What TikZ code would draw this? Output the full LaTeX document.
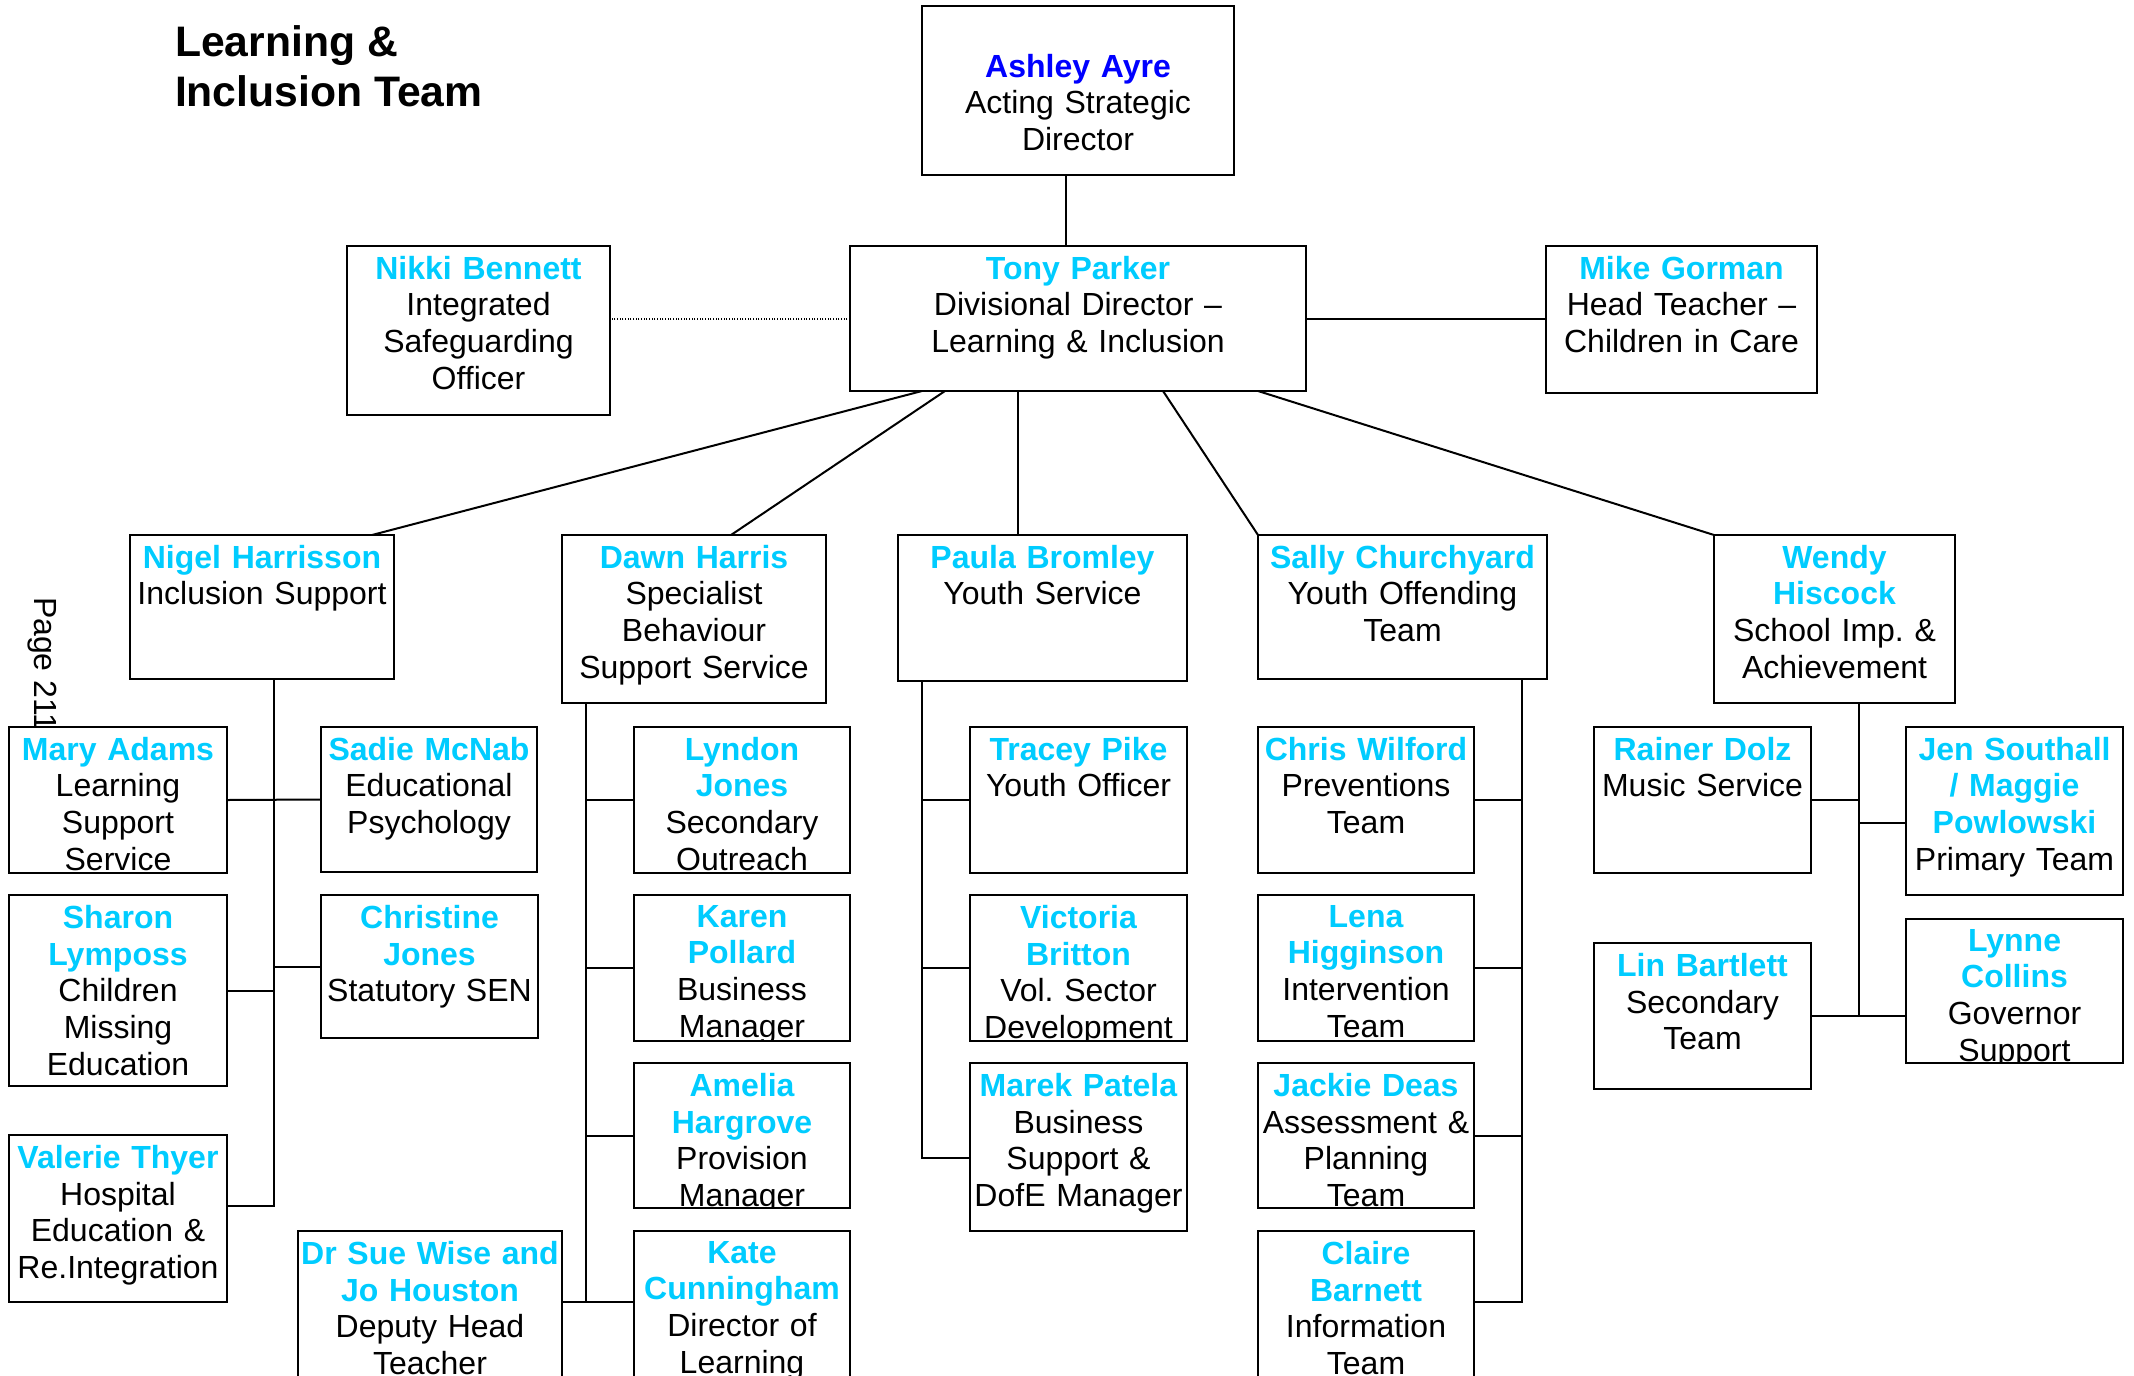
\documentclass[tikz,border=0pt]{standalone}
\usepackage{fontspec}
\setmainfont{Liberation Sans}
\usetikzlibrary{calc}
\definecolor{namecyan}{RGB}{0,204,255}
\definecolor{nameblue}{RGB}{0,0,255}
\newlength{\scaledx}
\newlength{\scaledy}
\newcommand\SetScales{%
  \pgfextractx{\scaledx}{\pgfpointxy{1}{0}}%
  \pgfextracty{\scaledy}{\pgfpointxy{0}{1}}%
}
% box name, x, y, width, height, person, job
\newcommand\StaffBox[7]{%
  \node[staffbox,minimum width=#4\scaledx,minimum height=#5\scaledx] (#1) at (#2,#3) {};
  \begin{scope}
    \clip (#2,#3) rectangle ++(#4,#5);
    \node[stafftext,text width=#4\scaledx] (#1text) at ($(#1.north)+(0,9)$) {\textcolor{namecyan}{\textbf{#6}}\\#7};
  \end{scope}%
}

\begin{document}
\frenchspacing
\begin{tikzpicture}[x=0.375pt,y=-0.375pt,line width=0.75pt,
  staffbox/.style={rectangle,draw,fill=white,inner sep=0,outer sep=0,anchor=north west},
  stafftext/.style={anchor=north,align=center,inner sep=0,font=\fontsize{12pt}{13.8pt}\selectfont},
  titletext/.style={anchor=north west,align=left,inner sep=0,font=\bfseries\fontsize{16pt}{18.75pt}\selectfont}]
\SetScales
\useasboundingbox (0,0) rectangle (2134,1375);
\clip (0,0) rectangle (2134,1375);
\node[titletext] (title) at (174,25) {Learning \&\\Inclusion Team};
\node[rotate=-90,anchor=base west,inner sep=0,font=\fontsize{12pt}{13.8pt}\selectfont] (pagenum) at (34,596) {Page 211};
% top of the tree
\node[staffbox,minimum width=312\scaledx,minimum height=169\scaledx] (ashley) at (922,6) {};
\node[stafftext,text width=312\scaledx] (ashleytext) at ($(ashley.north)+(0,47)$) {\textcolor{nameblue}{\textbf{Ashley Ayre}}\\Acting Strategic\\Director};
\StaffBox{tony}{850}{246}{456}{145}{Tony Parker}{Divisional Director \textendash\\Learning \& Inclusion}
\StaffBox{nikki}{347}{246}{263}{169}{Nikki Bennett}{Integrated\\Safeguarding\\Officer}
\StaffBox{mike}{1546}{246}{271}{147}{Mike Gorman}{Head Teacher \textendash\\Children in Care}
% heads of service
\StaffBox{nigel}{130}{535}{264}{144}{Nigel Harrisson}{Inclusion Support}
\StaffBox{dawn}{562}{535}{264}{168}{Dawn Harris}{Specialist\\Behaviour\\Support Service}
\StaffBox{paula}{898}{535}{289}{146}{Paula Bromley}{Youth Service}
\StaffBox{sally}{1258}{535}{289}{144}{Sally Churchyard}{Youth Offending\\Team}
\StaffBox{wendy}{1714}{535}{241}{168}{Wendy\\Hiscock}{School Imp. \&\\Achievement}
% inclusion support
\StaffBox{mary}{9}{727}{218}{146}{Mary Adams}{Learning\\Support\\Service}
\StaffBox{sadie}{321}{727}{216}{145}{Sadie McNab}{Educational\\Psychology}
\StaffBox{sharon}{9}{895}{218}{191}{Sharon\\Lymposs}{Children\\Missing\\Education}
\StaffBox{christine}{321}{895}{217}{143}{Christine\\Jones}{Statutory SEN}
\StaffBox{valerie}{9}{1135}{218}{167}{Valerie Thyer}{Hospital\\Education \&\\Re.Integration}
\StaffBox{drsue}{298}{1231}{264}{168}{Dr Sue Wise and\\Jo Houston}{Deputy Head\\Teacher}
% behaviour support
\StaffBox{lyndon}{634}{727}{216}{146}{Lyndon\\Jones}{Secondary\\Outreach}
\StaffBox{karen}{634}{895}{216}{146}{Karen\\Pollard}{Business\\Manager}
\StaffBox{amelia}{634}{1063}{216}{145}{Amelia\\Hargrove}{Provision\\Manager}
\StaffBox{kate}{634}{1231}{216}{168}{Kate\\Cunningham}{Director of\\Learning}
% youth service
\StaffBox{tracey}{970}{727}{217}{146}{Tracey Pike}{Youth Officer}
\StaffBox{victoria}{970}{895}{217}{146}{Victoria\\Britton}{Vol. Sector\\Development}
\StaffBox{marek}{970}{1063}{217}{168}{Marek Patela}{Business\\Support \&\\DofE Manager}
% youth offending
\StaffBox{chris}{1258}{727}{216}{146}{Chris Wilford}{Preventions\\Team}
\StaffBox{lena}{1258}{895}{216}{146}{Lena\\Higginson}{Intervention\\Team}
\StaffBox{jackie}{1258}{1063}{216}{145}{Jackie Deas}{Assessment \&\\Planning\\Team}
\StaffBox{claire}{1258}{1231}{216}{168}{Claire\\Barnett}{Information\\Team}
% school improvement
\StaffBox{rainer}{1594}{727}{217}{146}{Rainer Dolz}{Music Service}
\StaffBox{jen}{1906}{727}{217}{168}{Jen Southall\\/ Maggie\\Powlowski}{Primary Team}
\StaffBox{lin}{1594}{943}{217}{146}{Lin Bartlett}{Secondary\\Team}
\StaffBox{lynne}{1906}{919}{217}{144}{Lynne\\Collins}{Governor\\Support}
% lines
\draw ($(ashley.south west)+(144,0)$) -- ($(tony.north west)+(216,0)$);
\draw[dash pattern=on 0.4pt off 0.6pt] (tony.west) -- (tony.west -| nikki.east);
\draw (tony.east) -- (tony.east -| mike.west);
\draw ($(tony.south west)+(72,0)$) -- ($(nigel.north west)+(242,0)$);
\draw ($(tony.south west)+(95,0)$) -- ($(dawn.north west)+(169,0)$);
\draw ($(tony.south west)+(168,0)$) -- ($(paula.north west)+(120,0)$);
\draw ($(tony.south west)+(313,0)$) -- (sally.north west);
\draw ($(tony.south west)+(408,0)$) -- (wendy.north west);
\coordinate (nigeltrunk) at ($(nigel.south west)+(144,0)$);
\coordinate (dawntrunk) at ($(dawn.south west)+(24,0)$);
\coordinate (paulatrunk) at ($(paula.south west)+(24,0)$);
\coordinate (sallytrunk) at ($(sally.south west)+(264,0)$);
\coordinate (wendytrunk) at ($(wendy.south west)+(145,0)$);
\draw (nigeltrunk) |- ($(valerie.north east)+(0,71)$);
\draw (mary.east) -- (sadie.west);
\draw (sharon.east) -- (sharon.east -| nigeltrunk);
\draw (christine.west) -- (christine.west -| nigeltrunk);
\draw (dawntrunk) |- ($(kate.north west)+(0,71)$);
\draw ($(drsue.north east)+(0,71)$) -- ($(kate.north west)+(0,71)$);
\foreach \kid in {lyndon,karen,amelia} {
  \draw (\kid.west) -- (\kid.west -| dawntrunk);
}
\draw (paulatrunk) |- ($(marek.north west)+(0,95)$);
\foreach \kid in {tracey,victoria} {
  \draw (\kid.west) -- (\kid.west -| paulatrunk);
}
\draw (sallytrunk) |- ($(claire.north east)+(0,71)$);
\foreach \kid in {chris,lena,jackie} {
  \draw (\kid.east) -- (\kid.east -| sallytrunk);
}
\draw (wendytrunk) |- (lin.east);
\draw (lin.east) -- (lin.east -| lynne.west);
\draw (rainer.east) -- (rainer.east -| wendytrunk);
\draw ($(jen.north west)+(0,96)$) -- ++(-47,0);
\end{tikzpicture}
\end{document}
